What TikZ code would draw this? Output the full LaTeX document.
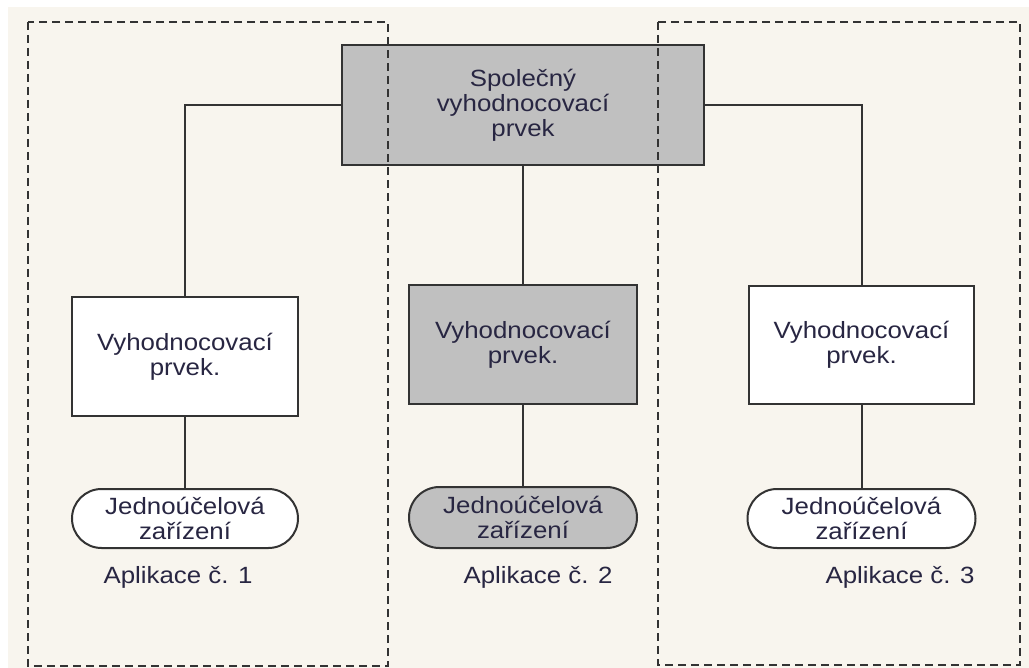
\documentclass[tikz,border=0pt]{standalone}
\usepackage{fontspec}
\setmainfont[FakeStretch=1.1]{Liberation Sans}
\usetikzlibrary{shapes.misc}

\definecolor{paper}{RGB}{248,245,238}
\definecolor{boxgray}{RGB}{192,192,192}
\definecolor{ink}{RGB}{51,51,51}
\definecolor{txt}{RGB}{40,38,66}

\tikzset{
	elem/.style={draw=ink, line width=2pt, fill=white, inner sep=0pt,
		align=center, text=txt, font=\fontsize{23.5}{25}\selectfont},
	unit/.style={elem, rectangle, minimum width=226pt, minimum height=119pt},
	device/.style={elem, rounded rectangle, minimum width=226pt,
		minimum height=59pt},
	shared/.style={fill=boxgray},
	app/.style={text=txt, font=\fontsize{23.5}{25}\selectfont},
	wire/.style={draw=ink, line width=2pt},
	group/.style={draw=ink, line width=2.4pt, dash pattern=on 8pt off 5pt}
}

\begin{document}
\begin{tikzpicture}[x=1pt, y=-1pt]

	\useasboundingbox (0,0) rectangle (1029,668);
	\fill[paper] (8,7) rectangle (1029,668);

	% common element
	\node[unit, shared, minimum width=362pt, minimum height=120pt] (common)
		at (523,105) {Společný\\vyhodnocovací\\prvek};

	% evaluation elements
	\node[unit] (eval1) at (185,356.5) {Vyhodnocovací\\prvek.};
	\node[unit, shared, minimum width=228pt] (eval2) at (523,344.5)
		{Vyhodnocovací\\prvek.};
	\node[unit, minimum width=225pt, minimum height=118pt] (eval3)
		at (861.5,345) {Vyhodnocovací\\prvek.};

	% single purpose devices
	\node[device] (dev1) at (185,518.5) {Jednoúčelová\\zařízení};
	\node[device, shared, minimum width=228pt, minimum height=61pt] (dev2)
		at (523,517.5) {Jednoúčelová\\zařízení};
	\node[device, minimum width=228pt] (dev3) at (861.5,518.5)
		{Jednoúčelová\\zařízení};

	\draw[wire] (common.west) -| (eval1.north);
	\draw[wire] (common.south) -- (eval2.north);
	\draw[wire] (common.east) -| (eval3.north);
	\draw[wire] (eval1.south) -- (dev1.north);
	\draw[wire] (eval2.south) -- (dev2.north);
	\draw[wire] (eval3.south) -- (dev3.north);

	\node[app] (app1) at (178,577) {Aplikace č. 1};
	\node[app] (app2) at (538,577) {Aplikace č. 2};
	\node[app] (app3) at (900,577) {Aplikace č. 3};

	% application groups
	\draw[group] (28,22) rectangle (388,666);
	\draw[group] (658,22) rectangle (1020,665);

\end{tikzpicture}
\end{document}
